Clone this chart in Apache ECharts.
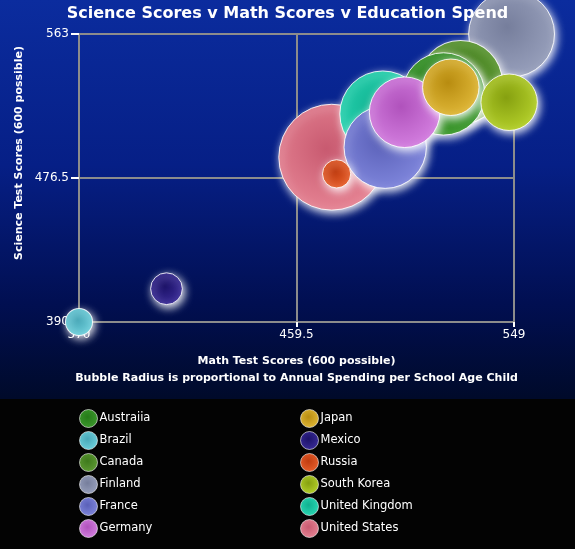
<!DOCTYPE html>
<html>
<head>
<meta charset="utf-8">
<script src="https://cdn.jsdelivr.net/npm/echarts@6/dist/echarts.min.js"></script>
<style>
html,body{margin:0;padding:0;background:#000;}
#chart{width:575px;height:549px;}
</style>
</head>
<body>
<div id="chart"></div>
<script>
// Data (scores)
var countries = ['Austraiia','Brazil','Canada','Finland','France','Germany','Japan','Mexico','Russia','South Korea','United Kingdom','United States'];
var mathScores =    [520, 370, 527, 548, 496, 504, 523, 406, 476, 547, 495, 474];
var scienceScores = [527, 390, 534, 563, 495, 516, 531, 410, 479, 522, 515, 489];
var spendPerChild = [7000, 2300, 7100, 7300, 7000, 6000, 4800, 2700, 2400, 4800, 7300, 9000];
var colorsEdge =   ['#3d9a2e','#6fd0dc','#5f9a34','#98a0bc','#7f86dc','#d47fe0','#e0b838','#3a2c98','#e8602c','#b4d02a','#2ad8b4','#e68494'];
var colorsCenter = ['#257a18','#48a8b8','#3e7a1c','#767e9c','#5a60b8','#b052bc','#b88c10','#1c1268','#c03c10','#86a010','#10b090','#c85a70'];
var xTicks = [370, 459.5, 549];
var yTicks = [390, 476.5, 563];

var FONT = 'DejaVu Sans';
var chart = echarts.init(document.getElementById('chart'), null, {renderer: 'canvas'});

// draw biggest first so smaller bubbles sit on top
var order = countries.map(function (c, i) { return i; })
  .sort(function (a, b) { return spendPerChild[b] - spendPerChild[a]; });

var series = order.map(function (i) {
  return {
    name: countries[i],
    type: 'scatter',
    data: [[mathScores[i], scienceScores[i], spendPerChild[i]]],
    symbolSize: function (v) { return v[2] * 0.01176; },
    itemStyle: {
      color: {
        type: 'radial', x: 0.45, y: 0.42, r: 0.6,
        colorStops: [{offset: 0, color: colorsCenter[i]}, {offset: 1, color: colorsEdge[i]}]
      },
      borderColor: 'rgba(255,255,255,0.85)',
      borderWidth: 1,
      shadowColor: 'rgba(255,255,255,0.95)',
      shadowBlur: 9,
      shadowOffsetX: 2,
      shadowOffsetY: 3,
      opacity: 1
    },
    emphasis: {disabled: true}
  };
});

var legendBase = {
  orient: 'vertical', top: 409, height: 140, padding: 0,
  itemWidth: 18, itemHeight: 18, itemGap: 3,
  icon: 'circle',
  textStyle: {color: '#ffffff', fontSize: 11.5, fontFamily: FONT, padding: [0, 0, 0, -3]},
  itemStyle: {shadowBlur: 0, shadowOffsetX: 0, shadowOffsetY: 0, borderColor: 'rgba(255,255,255,0.6)', borderWidth: 1}
};

chart.setOption({
  backgroundColor: {
    type: 'linear', x: 0, y: 0, x2: 0, y2: 1,
    colorStops: [
      {offset: 0, color: '#0b2c9e'},
      {offset: 0.3, color: '#061f86'},
      {offset: 0.55, color: '#010f52'},
      {offset: 0.726, color: '#000a2a'},
      {offset: 0.727, color: '#030303'},
      {offset: 1, color: '#030303'}
    ]
  },
  animation: false,
  textStyle: {fontFamily: FONT},
  title: {
    text: 'Science Scores v Math Scores v Education Spend',
    left: 'center', top: 1,
    textStyle: {color: '#ffffff', fontSize: 16, fontWeight: 'bold', fontFamily: FONT}
  },
  graphic: [{
    type: 'text', x: 19, y: 153, rotation: Math.PI / 2,
    style: {
      text: 'Science Test Scores (600 possible)',
      fill: '#ffffff', font: 'bold 11px "DejaVu Sans"',
      textAlign: 'center', textVerticalAlign: 'middle'
    }
  }],
  legend: [
    Object.assign({}, legendBase, {left: 79, data: countries.slice(0, 6)}),
    Object.assign({}, legendBase, {left: 300, data: countries.slice(6)})
  ],
  grid: {left: 79, right: 61, top: 34, bottom: 227},
  xAxis: {
    type: 'value', min: 370, max: 549,
    name: 'Math Test Scores (600 possible)\nBubble Radius is proportional to Annual Spending per School Age Child',
    nameLocation: 'middle', nameGap: 31,
    nameTextStyle: {color: '#ffffff', fontSize: 11, fontWeight: 'bold', fontFamily: FONT, lineHeight: 17},
    axisLine: {show: true, lineStyle: {color: '#8c8c8c', width: 2}},
    axisTick: {show: true, customValues: xTicks, length: 5, lineStyle: {color: '#ffffff', width: 2}},
    axisLabel: {customValues: xTicks, color: '#ffffff', fontSize: 12, margin: 7, fontFamily: FONT,
      formatter: function (v) { return String(v); }},
    splitLine: {show: true, lineStyle: {color: '#8c8c8c', width: 2}}
  },
  yAxis: {
    type: 'value', min: 390, max: 563,
    axisLine: {show: true, lineStyle: {color: '#8c8c8c', width: 2}},
    axisTick: {show: true, customValues: yTicks, length: 8, lineStyle: {color: '#ffffff', width: 2}},
    axisLabel: {customValues: yTicks, color: '#ffffff', fontSize: 12, margin: 10, fontFamily: FONT,
      formatter: function (v) { return String(v); }},
    splitLine: {show: true, lineStyle: {color: '#8c8c8c', width: 2}}
  },
  series: series
});
</script>
</body>
</html>
